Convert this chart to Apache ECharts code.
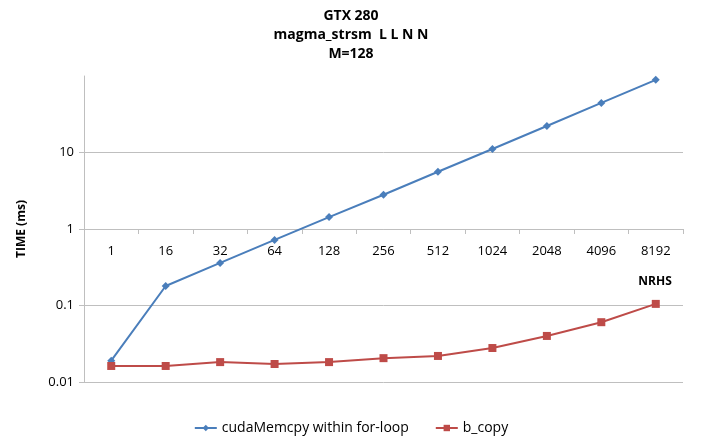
<!DOCTYPE html>
<html>
<head>
<meta charset="utf-8">
<script src="https://cdn.jsdelivr.net/npm/echarts@6/dist/echarts.min.js"></script>
<style>html,body{margin:0;padding:0;background:#fff}#c{width:702px;height:443px}</style>
</head>
<body>
<div id="c"></div>
<script>
const categories = ['1','16','32','64','128','256','512','1024','2048','4096','8192'];
const cudaMemcpyLoop = [0.019, 0.18, 0.36, 0.72, 1.43, 2.8, 5.6, 11.1, 22.2, 44.5, 89];
const bCopy = [0.0162, 0.0162, 0.0182, 0.0172, 0.0182, 0.0205, 0.0219, 0.0278, 0.040, 0.0605, 0.105];
const seriesNames = ['cudaMemcpy within for-loop', 'b_copy'];
const titleLines = ['GTX 280', 'magma_strsm  L L N N', 'M=128'];

const FONT = '"Open Sans", "Noto Sans", sans-serif';
const chart = echarts.init(document.getElementById('c'), null, {renderer: 'canvas'});
chart.setOption({
  backgroundColor: '#fff',
  animation: false,
  title: {
    text: titleLines.join('\n'),
    left: 'center',
    top: 2,
    textStyle: {fontFamily: FONT, fontSize: 14, fontWeight: 'bold', color: '#000', lineHeight: 19}
  },
  legend: {
    bottom: 3,
    left: 'center',
    itemGap: 26,
    itemWidth: 22,
    itemHeight: 8,
    textStyle: {fontFamily: FONT, fontSize: 14, color: '#000'},
    data: seriesNames
  },
  grid: {left: 84, right: 19, top: 76, bottom: 61},
  xAxis: {
    type: 'category',
    data: categories,
    boundaryGap: true,
    position: 'bottom',
    offset: -153,
    axisLine: {show: true, lineStyle: {color: '#BFBFBF', width: 1}},
    axisTick: {show: true, length: 5, lineStyle: {color: '#BFBFBF'}},
    axisLabel: {fontFamily: FONT, fontSize: 13, color: '#000', margin: 16},
    name: 'NRHS',
    nameLocation: 'end',
    nameGap: -28,
    nameTextStyle: {fontFamily: FONT, fontSize: 12, fontWeight: 'bold', color: '#000', align: 'center', verticalAlign: 'top', padding: [47, 0, 0, 0]},
    splitLine: {show: false}
  },
  yAxis: {
    type: 'log',
    logBase: 10,
    min: 0.01,
    max: 100,
    name: 'TIME (ms)',
    nameLocation: 'middle',
    nameGap: 56,
    nameRotate: 90,
    nameTextStyle: {fontFamily: FONT, fontSize: 12, fontWeight: 'bold', color: '#000'},
    axisLine: {show: true, lineStyle: {color: '#BFBFBF', width: 1}},
    axisTick: {show: true, length: 5, lineStyle: {color: '#BFBFBF'}},
    axisLabel: {
      fontFamily: FONT, fontSize: 13, color: '#000', margin: 10,
      showMaxLabel: false,
      formatter: v => String(+Number(v).toPrecision(3))
    },
    splitLine: {show: true, showMaxLine: false, lineStyle: {color: '#BFBFBF', width: 1}}
  },
  series: [
    {
      name: seriesNames[0],
      type: 'line',
      data: cudaMemcpyLoop,
      symbol: 'diamond',
      symbolSize: 8,
      itemStyle: {color: '#4A7EBB'},
      lineStyle: {color: '#4A7EBB', width: 2}
    },
    {
      name: seriesNames[1],
      type: 'line',
      data: bCopy,
      symbol: 'rect',
      symbolSize: 8,
      itemStyle: {color: '#BE4B48'},
      lineStyle: {color: '#BE4B48', width: 2}
    }
  ]
});
</script>
</body>
</html>
